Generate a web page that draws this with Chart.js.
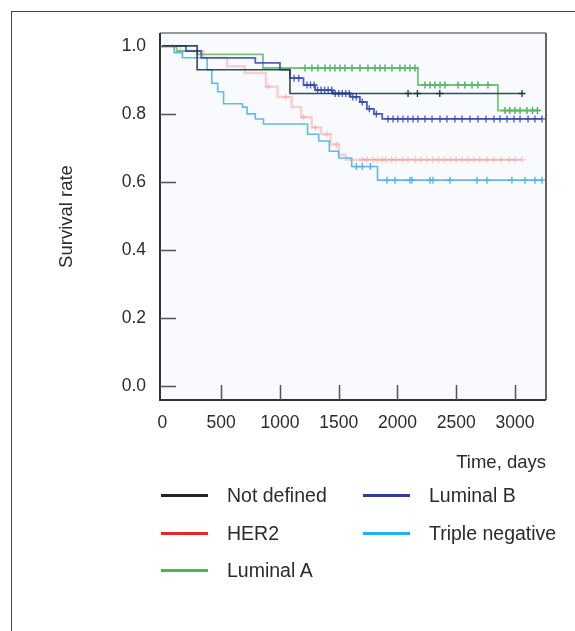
<!DOCTYPE html>
<html>
<head>
<meta charset="utf-8">
<script src="https://cdn.jsdelivr.net/npm/chart.js@4/dist/chart.umd.min.js"></script>
<style>
    body { margin: 0; background: #fff; }
    #wrap { position: relative; width: 575px; height: 631px; overflow: hidden; font-family: "Liberation Sans", Arial, sans-serif; color: #2b2b2b; }
    #frame { position: absolute; left: 11px; top: 11px; width: 600px; height: 700px; border-top: 1.5px solid #444; border-left: 1.5px solid #444; }
    #chart { position: absolute; left: 0; top: 0; }
    .leg-line { position: absolute; width: 47px; height: 3px; }
    .leg-text { position: absolute; font-size: 19.5px; line-height: 20px; }
</style>
</head>
<body>
<div id="wrap">
    <div id="frame"></div>
    <canvas id="chart" width="575" height="631"></canvas>
    <div id="legend"></div>
</div>
<script>
// time in days, survival rate after each event
const notDefinedTimes = [0, 295, 1085];
const notDefinedSurv = [1.0, 0.93, 0.86];
const notDefinedCensor = [2090, 2170, 2360, 3060];

const her2Times = [0, 150, 350, 550, 700, 880, 980, 1100, 1180, 1270, 1350, 1430, 1500, 1560];
const her2Surv = [1.0, 0.985, 0.965, 0.94, 0.92, 0.88, 0.85, 0.82, 0.79, 0.76, 0.74, 0.71, 0.68, 0.665];
const her2Censor = [900, 1050, 1200, 1300, 1400, 1480, 1700, 1740, 1790, 1830, 1870, 1900, 1950, 1990, 2040,
    2090, 2150, 2200, 2250, 2300, 2350, 2400, 2450, 2500, 2550, 2600, 2650, 2700, 2760, 2820, 2880, 2950, 3000, 3060];

const luminalATimes = [0, 120, 295, 855, 2174, 2855];
const luminalASurv = [1.0, 0.985, 0.975, 0.935, 0.885, 0.81];
const luminalACensor = [1213, 1272, 1323, 1383, 1426, 1468, 1511, 1553, 1613, 1681, 1749, 1809, 1851, 1894, 1953,
    2021, 2064, 2106, 2149, 2234, 2277, 2319, 2362, 2404, 2515, 2574, 2634, 2685, 2770,
    2915, 2957, 3000, 3043, 3102, 3149, 3191];

const luminalBTimes = [0, 200, 330, 790, 1000, 1085, 1200, 1300, 1450, 1600, 1680, 1740, 1800, 1870];
const luminalBSurv = [1.0, 0.985, 0.965, 0.95, 0.93, 0.905, 0.885, 0.87, 0.86, 0.85, 0.835, 0.815, 0.80, 0.785];
const luminalBCensor = [1120, 1160, 1230, 1260, 1290, 1320, 1350, 1380, 1410, 1440, 1470, 1500, 1530, 1560, 1590,
    1620, 1650, 1700, 1760, 1820, 1919, 1962, 2004, 2047, 2089, 2132, 2174, 2234, 2294, 2362, 2421, 2489,
    2549, 2617, 2685, 2753, 2821, 2872, 2932, 2991, 3043, 3111, 3170, 3230];

const tripleNegTimes = [0, 100, 170, 380, 420, 470, 520, 680, 720, 790, 860, 1235, 1330, 1420, 1500, 1610, 1830];
const tripleNegSurv = [1.0, 0.98, 0.965, 0.93, 0.89, 0.865, 0.83, 0.82, 0.80, 0.785, 0.77, 0.74, 0.72, 0.69, 0.67, 0.645, 0.605];
const tripleNegCensor = [1650, 1700, 1770, 1911, 1979, 2106, 2123, 2277, 2302, 2447, 2677, 2762, 2974, 3085, 3170, 3230];

const xTicks = [0, 500, 1000, 1500, 2000, 2500, 3000];
const yTicks = [0.0, 0.2, 0.4, 0.6, 0.8, 1.0];

const textColor = '#2b2b2b';

function survAt(times, surv, t) {
    let s = surv[0];
    for (let i = 0; i < times.length; i++) {
        if (times[i] <= t) s = surv[i];
    }
    return s;
}

function curve(times, surv, censor) {
    const pts = times.map((t, i) => ({ x: t, y: surv[i] }));
    const end = Math.max(...censor);
    pts.push({ x: end, y: surv[surv.length - 1] });
    return pts;
}

function marks(times, surv, censor) {
    return censor.map(t => ({ x: t, y: survAt(times, surv, t) }));
}

const series = [
    { name: 'Not defined', times: notDefinedTimes, surv: notDefinedSurv, censor: notDefinedCensor,
      line: 'rgba(28,58,66,0.9)', mark: 'rgba(20,30,35,0.9)', legend: '#222', width: 1.6, order: 1 },
    { name: 'HER2', times: her2Times, surv: her2Surv, censor: her2Censor,
      line: 'rgba(238,120,110,0.3)', mark: 'rgba(235,110,100,0.3)', legend: '#e8262a', width: 2.5, order: 5 },
    { name: 'Luminal A', times: luminalATimes, surv: luminalASurv, censor: luminalACensor,
      line: 'rgba(95,190,95,0.85)', mark: 'rgba(40,155,85,0.9)', legend: '#4cb84c', width: 1.8, order: 3 },
    { name: 'Luminal B', times: luminalBTimes, surv: luminalBSurv, censor: luminalBCensor,
      line: 'rgba(52,72,176,0.85)', mark: 'rgba(44,62,168,0.85)', legend: '#2f3d9a', width: 1.8, order: 2 },
    { name: 'Triple negative', times: tripleNegTimes, surv: tripleNegSurv, censor: tripleNegCensor,
      line: 'rgba(80,180,230,0.9)', mark: 'rgba(60,170,225,0.9)', legend: '#1db1ee', width: 1.6, order: 4 },
];

const datasets = [];
series.forEach(s => {
    datasets.push({
        type: 'line',
        label: s.name,
        data: curve(s.times, s.surv, s.censor),
        borderColor: s.line,
        borderWidth: s.width,
        stepped: true,
        pointRadius: 0,
        fill: false,
        order: s.order,
    });
    datasets.push({
        type: 'scatter',
        label: s.name + ' censored',
        data: marks(s.times, s.surv, s.censor),
        borderColor: s.mark,
        backgroundColor: s.mark,
        pointStyle: 'cross',
        pointRadius: 3.5,
        pointBorderWidth: 1.3,
        order: s.order,
    });
});

const framePlugin = {
    id: 'frame',
    beforeDatasetsDraw(chart) {
        const { ctx, chartArea: a } = chart;
        ctx.save();
        ctx.fillStyle = '#f8fafd';
        ctx.fillRect(a.left, a.top, a.right - a.left, a.bottom - a.top);
        ctx.restore();
    },
    afterDatasetsDraw(chart) {
        const { ctx, chartArea: a, scales } = chart;
        ctx.save();
        ctx.strokeStyle = '#999';
        ctx.lineWidth = 2;
        ctx.beginPath();
        ctx.moveTo(a.left, a.top);
        ctx.lineTo(a.right, a.top);
        ctx.stroke();
        ctx.strokeStyle = '#333';
        ctx.lineWidth = 1.5;
        ctx.beginPath();
        ctx.moveTo(a.right, a.top);
        ctx.lineTo(a.right, a.bottom);
        ctx.stroke();
        ctx.lineWidth = 2;
        ctx.beginPath();
        ctx.moveTo(a.left, a.top);
        ctx.lineTo(a.left, a.bottom);
        ctx.lineTo(a.right, a.bottom);
        ctx.stroke();
        // inward tick marks
        ctx.strokeStyle = '#555';
        ctx.lineWidth = 1.5;
        ctx.beginPath();
        yTicks.forEach(v => {
            const py = Math.round(scales.y.getPixelForValue(v)) + 0.5;
            ctx.moveTo(a.left, py);
            ctx.lineTo(a.left + 16, py);
        });
        xTicks.slice(1).forEach(v => {
            const px = Math.round(scales.x.getPixelForValue(v)) + 0.5;
            ctx.moveTo(px, a.bottom);
            ctx.lineTo(px, a.bottom - 15);
        });
        ctx.stroke();
        ctx.restore();
    },
};

new Chart(document.getElementById('chart'), {
    data: { datasets },
    options: {
        responsive: false,
        animation: false,
        devicePixelRatio: 1,
        layout: { padding: { left: 52, top: 33, right: 29, bottom: 153 } },
        plugins: {
            legend: { display: false },
            tooltip: { enabled: false },
        },
        scales: {
            x: {
                type: 'linear',
                min: -21,
                max: 3264,
                afterBuildTicks: (scale) => { scale.ticks = xTicks.map(v => ({ value: v })); },
                afterFit: (scale) => { scale.height = 78; },
                grid: { display: false, drawTicks: false },
                border: { display: false },
                ticks: {
                    color: textColor, padding: 13, maxRotation: 0,
                    font: { family: 'Liberation Sans', size: 17.5 },
                    callback: (v) => String(v),
                },
                title: {
                    display: true, text: 'Time, days', align: 'end', color: textColor,
                    font: { family: 'Liberation Sans', size: 18.5 },
                },
            },
            y: {
                type: 'linear',
                min: -0.042,
                max: 1.038,
                afterBuildTicks: (scale) => { scale.ticks = yTicks.map(v => ({ value: v })); },
                afterFit: (scale) => { scale.width = 108; },
                grid: { display: false, drawTicks: false },
                border: { display: false },
                ticks: {
                    color: textColor, padding: 14,
                    font: { family: 'Liberation Sans', size: 17.5 },
                    callback: (v) => Number(v).toFixed(1),
                },
                title: {
                    display: true, text: 'Survival rate', color: textColor,
                    font: { family: 'Liberation Sans', size: 18.5 },
                },
            },
        },
    },
    plugins: [framePlugin],
});

// legend in two columns under the plot
const legendCols = [161, 363];
const legendRows = [495, 533, 570];
const legendSlots = [[0, 0], [0, 1], [0, 2], [1, 0], [1, 1]];
const legendOrder = ['Not defined', 'HER2', 'Luminal A', 'Luminal B', 'Triple negative'];
const legendEl = document.getElementById('legend');
legendOrder.forEach((name, i) => {
    const s = series.find(d => d.name === name);
    const [c, r] = legendSlots[i];
    const line = document.createElement('div');
    line.className = 'leg-line';
    line.style.left = legendCols[c] + 'px';
    line.style.top = (legendRows[r] - 1.5) + 'px';
    line.style.background = s.legend;
    const text = document.createElement('div');
    text.className = 'leg-text';
    text.style.left = (legendCols[c] + 66) + 'px';
    text.style.top = (legendRows[r] - 10) + 'px';
    text.textContent = name;
    legendEl.appendChild(line);
    legendEl.appendChild(text);
});
</script>
</body>
</html>
